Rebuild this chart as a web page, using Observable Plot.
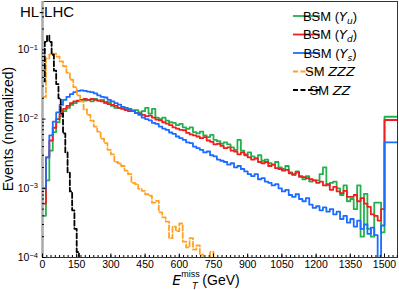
<!DOCTYPE html>
<html><head><meta charset="utf-8">
<script src="https://cdn.jsdelivr.net/npm/d3@7"></script>
<script src="https://cdn.jsdelivr.net/npm/@observablehq/plot@0.6"></script>
<style>
body{margin:0;background:#fff}
#chart{width:399px;height:290px}
</style>
</head><body><div id="chart"></div>
<script>
// ---------- data (normalized event fractions per bin) ----------
const bsmBinWidth = 15;      // GeV, bins 0..1500
const overflowStart = 1500;  // overflow bin drawn from 1500 to the frame edge
const bsmYu = [
 4e-4,1.3e-3,3.5e-3,6.5e-3,9.0e-3,1.1e-2,1.3e-2,1.45e-2,1.6e-2,1.7e-2,
 1.8e-2,1.85e-2,1.85e-2,1.9e-2,1.8e-2,1.95e-2,1.85e-2,1.9e-2,1.7e-2,1.75e-2,
 1.55e-2,1.45e-2,1.45e-2,1.5e-2,1.38e-2,1.4e-2,1.3e-2,1.35e-2,1.25e-2,1.3e-2,
 1.45e-2,1.2e-2,1.4e-2,1.05e-2,1.0e-2,1.05e-2,9.5e-3,9.0e-3,8.8e-3,8.2e-3,
 8.5e-3,7.6e-3,7.2e-3,7.6e-3,6.5e-3,6.2e-3,6.6e-3,5.8e-3,5.5e-3,5.9e-3,
 5.0e-3,4.8e-3,4.4e-3,4.6e-3,4.3e-3,3.9e-3,3.6e-3,5.0e-3,3.5e-3,3.1e-3,
 3.3e-3,2.9e-3,2.7e-3,3.0e-3,2.5e-3,2.6e-3,2.3e-3,2.2e-3,2.4e-3,2.0e-3,
 1.9e-3,2.1e-3,1.7e-3,1.55e-3,1.75e-3,1.45e-3,1.35e-3,1.5e-3,1.25e-3,1.3e-3,
 1.3e-3,1.6e-3,2.0e-3,1.1e-3,1.2e-3,1.25e-3,1.0e-3,8.0e-4,1.1e-3,6.5e-4,
 7.0e-4,5.0e-4,1.1e-3,2.0e-4,8.3e-4,2.6e-4,2.0e-4,6.2e-4,6.2e-4,2.3e-4];
const bsmYd = [
 6e-4,2.8e-3,4.9e-3,7.5e-3,1.0e-2,1.2e-2,1.4e-2,1.55e-2,1.7e-2,1.8e-2,
 1.85e-2,1.9e-2,1.95e-2,1.9e-2,1.95e-2,1.9e-2,1.85e-2,1.8e-2,1.75e-2,1.65e-2,
 1.6e-2,1.55e-2,1.45e-2,1.4e-2,1.35e-2,1.3e-2,1.32e-2,1.22e-2,1.2e-2,1.15e-2,
 1.1e-2,1.12e-2,1.05e-2,9.8e-3,9.6e-3,9.0e-3,8.6e-3,8.2e-3,7.6e-3,7.3e-3,
 7.0e-3,6.9e-3,6.3e-3,6.0e-3,5.8e-3,5.6e-3,5.3e-3,5.5e-3,4.9e-3,4.7e-3,
 4.3e-3,4.4e-3,4.1e-3,3.8e-3,3.9e-3,3.5e-3,3.4e-3,3.1e-3,3.3e-3,3.0e-3,
 2.8e-3,2.6e-3,2.7e-3,2.4e-3,2.3e-3,2.4e-3,2.1e-3,2.2e-3,1.95e-3,1.9e-3,
 1.8e-3,1.85e-3,1.65e-3,1.6e-3,1.7e-3,1.5e-3,1.45e-3,1.4e-3,1.35e-3,1.3e-3,
 1.2e-3,1.25e-3,1.1e-3,1.15e-3,9.5e-4,1.05e-3,9.0e-4,8.5e-4,9.2e-4,7.5e-4,
 7.5e-4,8.0e-4,6.5e-4,7.2e-4,6.0e-4,5.4e-4,4.2e-4,4.0e-4,3.4e-4,5.0e-4];
const bsmYs = [
 1.0e-3,2.8e-3,5.8e-3,9.2e-3,1.25e-2,1.6e-2,1.9e-2,2.1e-2,2.3e-2,2.45e-2,
 2.55e-2,2.6e-2,2.55e-2,2.5e-2,2.45e-2,2.35e-2,2.2e-2,2.1e-2,2.05e-2,1.9e-2,
 1.8e-2,1.7e-2,1.62e-2,1.5e-2,1.45e-2,1.38e-2,1.32e-2,1.22e-2,1.15e-2,1.05e-2,
 1.0e-2,9.6e-3,8.8e-3,8.5e-3,7.8e-3,7.3e-3,7.0e-3,6.4e-3,6.1e-3,5.6e-3,
 5.3e-3,5.0e-3,4.6e-3,4.5e-3,4.0e-3,3.8e-3,3.6e-3,3.3e-3,3.4e-3,3.0e-3,
 2.9e-3,2.6e-3,2.5e-3,2.4e-3,2.2e-3,2.3e-3,2.0e-3,2.1e-3,1.9e-3,1.75e-3,
 1.6e-3,1.5e-3,1.6e-3,1.35e-3,1.4e-3,1.25e-3,1.2e-3,1.1e-3,1.15e-3,1.0e-3,
 9.0e-4,9.5e-4,8.0e-4,7.5e-4,8.2e-4,7.0e-4,6.5e-4,7.2e-4,5.8e-4,5.2e-4,
 5.5e-4,4.8e-4,5.3e-4,4.6e-4,5.0e-4,4.2e-4,4.6e-4,3.6e-4,4.0e-4,3.2e-4,
 3.6e-4,2.8e-4,3.4e-4,2.6e-4,3.0e-4,2.2e-4,2.7e-4,2.1e-4,0,2.9e-4];
const overflowYu = 1.08e-2, overflowYd = 9.7e-3, overflowYs = 4.6e-3;

const zzzBinWidth = 15;
const smZZZ = [
 0.021,0.075,0.086,0.088,0.08,0.068,0.058,0.047,0.037,0.029,
 0.022,0.018,0.0138,0.0115,0.0095,0.0078,0.0066,0.0052,0.0045,0.0036,
 0.0031,0.0024,0.0023,0.0021,0.0018,0.0016,0.0012,0.00115,0.00098,0.00092,
 0.00082,0.00078,0.00062,0.00066,0.00045,0.00038,0.00033,0.00019,0.00028,0.00024,
 0.00031,0.00017,0.00014,0.00019,0.00013,0.00015,0.00011,0,0,0.00012,0];
const zzBinWidth = 10;
const smZZ = [0.035,0.13,0.16,0.13,0.085,0.05,0.032,0.02,0.012,0.0062,
 0.0033,0.0017,0.0009,0.00048,0.00026,0.00012];

const xTicks = [0,150,300,450,600,750,900,1050,1200,1350,1500];
const xMinor = d3.range(0, 1560, 18.75);
const yTicks = [1e-4,1e-3,1e-2,1e-1];
const yMinor = [-4,-3,-2,-1].flatMap(e => [2,3,4,5,6,7,8,9].map(k => k*10**e)).filter(v => v < 0.5);

// ---------- build step-histogram points ----------
function hist(vals, w, overflow) {
  const pts = vals.map((v, i) => ({x: i * w, y: v}));
  if (overflow != null) {
    pts.push({x: overflowStart, y: overflow}, {x: 1600, y: overflow});
  } else {
    pts.push({x: vals.length * w, y: vals[vals.length - 1]}, {x: vals.length * w, y: 0});
  }
  return pts;
}
const yv = d => Math.max(d.y, 1e-7);

const colors = {Yu: "#22b24c", Yd: "#f01e1e", Ys: "#1c6cff", ZZZ: "#ffa224", ZZ: "#000000"};
const lineOpts = (c, dash) => ({x: "x", y: yv, curve: "step-after", stroke: c, strokeWidth: 1.8,
  strokeDasharray: dash, clip: true});

const chart = Plot.plot({
  width: 399, height: 290,
  marginLeft: 42, marginRight: 2, marginTop: 1, marginBottom: 33,
  style: {fontFamily: "'Liberation Sans', Arial, sans-serif", fontSize: "10.5px", color: "#000", background: "#fff"},
  x: {domain: [0, 1557], label: null},
  y: {type: "log", domain: [1e-4, 0.5], label: null},
  marks: [
    Plot.line(hist(bsmYu, bsmBinWidth, overflowYu), lineOpts(colors.Yu)),
    Plot.line(hist(bsmYd, bsmBinWidth, overflowYd), lineOpts(colors.Yd)),
    Plot.line(hist(bsmYs, bsmBinWidth, overflowYs), lineOpts(colors.Ys)),
    Plot.line(hist(smZZZ, zzzBinWidth), lineOpts(colors.ZZZ, "5,2.5")),
    Plot.line(hist(smZZ, zzBinWidth), lineOpts(colors.ZZ, "5,2.5")),
    Plot.frame({stroke: "#333", strokeWidth: 1}),
    Plot.ruleX([0], {stroke: "#aaa", strokeWidth: 2.5}),
    Plot.axisX(xMinor, {tickSize: 2, dy: -2, fill: "none", label: null}),
    Plot.axisX(xTicks, {tickSize: 3.5, dy: -3.5, fill: "none", label: null}),
    Plot.axisX(xTicks, {tickSize: 0, tickPadding: 3, tickFormat: d => String(d), label: null}),
    Plot.axisY(yMinor, {tickSize: 2, dx: 2, fill: "none", label: null}),
    Plot.axisY(yTicks, {tickSize: 3.5, dx: 3.5, fill: "none", label: null}),
    Plot.axisY(yTicks, {tickSize: 0, tickPadding: 4.5, tickFormat: d => "10|" + Math.round(Math.log10(d)), label: null})
  ]
});
document.getElementById("chart").appendChild(chart);

const svg = d3.select(chart);
// superscript exponents on y tick labels
svg.selectAll('g[aria-label="y-axis tick label"] text').each(function() {
  const s = this.textContent;
  if (!s.includes("|")) return;
  const [b, e] = s.split("|");
  const t = d3.select(this);
  t.text(b);
  t.append("tspan").attr("dy", "-0.45em").attr("font-size", "7.5px").text("\u2212" + Math.abs(+e));
});

// rich text helper
function rich(g, x, y, size, parts, family) {
  const t = g.append("text").attr("x", x).attr("y", y).attr("font-size", size)
    .attr("font-family", family || "'Liberation Sans', Arial, sans-serif").attr("fill", "#000");
  let shift = 0;
  for (const p of parts) {
    const s = t.append("tspan").text(p.t);
    if (p.i) s.attr("font-style", "italic").attr("font-family", "'DejaVu Sans', sans-serif");
    const target = p.sub ? 3 : 0;
    if (target !== shift) { s.attr("dy", target - shift); shift = target; }
    if (p.sub) s.attr("font-size", size * 0.7);
  }
  return t;
}

const ann = svg.append("g");
// title inside plot
ann.append("text").attr("x", 47).attr("y", 17).attr("font-size", 15)
  .attr("font-family", "'Liberation Sans', Arial, sans-serif").text("HL-LHC");

// y label
ann.append("text").attr("transform", "translate(12.5,129) rotate(-90)")
  .attr("text-anchor", "middle").attr("font-size", 14)
  .attr("font-family", "'Liberation Sans', Arial, sans-serif").text("Events (normalized)");

// x label: E_T^miss (GeV) — superscript and subscript stacked after E
const xl = ann.append("text").attr("x", 186).attr("y", 285).attr("font-size", 14)
  .attr("font-family", "'Liberation Sans', Arial, sans-serif");
xl.append("tspan").attr("font-style", "italic").attr("font-family", "'DejaVu Sans', sans-serif").text("E");
xl.append("tspan").attr("dy", -8).attr("font-size", 9).text("miss");
ann.append("text").attr("x", 195).attr("y", 289).attr("font-size", 9)
  .attr("font-style", "italic").attr("font-family", "'DejaVu Sans', sans-serif").text("T");
ann.append("text").attr("x", 221).attr("y", 285).attr("font-size", 14)
  .attr("font-family", "'Liberation Sans', Arial, sans-serif").text("(GeV)");

// legend
const legendRows = [
  {c: colors.Yu, dash: null, parts: [{t: "BSM ("}, {t: "Y", i: 1}, {t: "u", i: 1, sub: 1}, {t: ")"}]},
  {c: colors.Yd, dash: null, parts: [{t: "BSM ("}, {t: "Y", i: 1}, {t: "d", i: 1, sub: 1}, {t: ")"}]},
  {c: colors.Ys, dash: null, parts: [{t: "BSM ("}, {t: "Y", i: 1}, {t: "s", i: 1, sub: 1}, {t: ")"}]},
  {c: colors.ZZZ, dash: "5,2.5", parts: [{t: "SM "}, {t: "ZZZ", i: 1}]},
  {c: colors.ZZ, dash: "5,2.5", parts: [{t: "SM "}, {t: "ZZ", i: 1}]}
];
const legendY = [16, 34.5, 53, 71.5, 90];
legendRows.forEach((r, k) => {
  const y = legendY[k];
  ann.append("line").attr("x1", 293).attr("x2", 320).attr("y1", y).attr("y2", y)
    .attr("stroke", r.c).attr("stroke-width", 1.8).attr("stroke-dasharray", r.dash);
  rich(ann, 330, y + 4.7, 13, r.parts);
});
</script>
</body></html>
